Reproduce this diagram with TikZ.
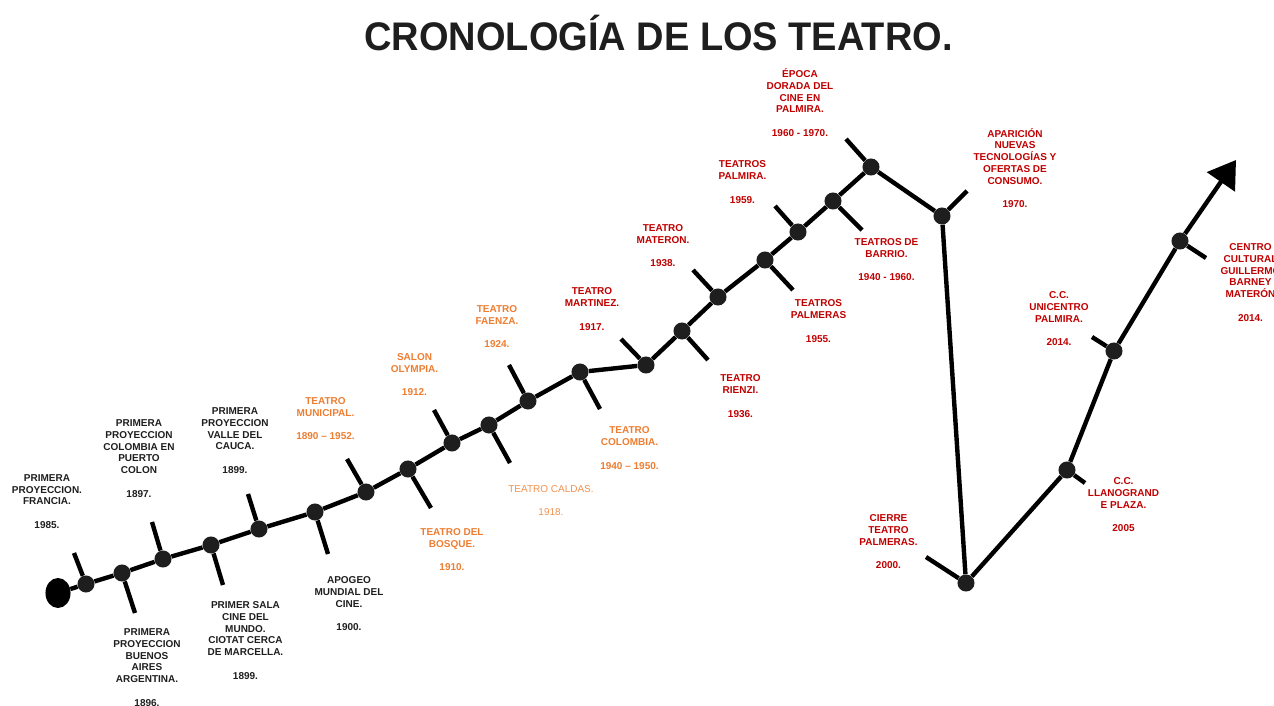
\documentclass[tikz,border=0pt]{standalone}
\usepackage{fontspec}
\setmainfont{Liberation Sans}
\usetikzlibrary{arrows.meta, shapes.geometric}

\definecolor{ink}{HTML}{1E1E1E}
\definecolor{hitred}{HTML}{C00000}
\definecolor{hitorange}{HTML}{ED7D31}

\begin{document}
\begin{tikzpicture}[x=0.75pt, y=-0.75pt,
    dot/.style={circle, fill=ink, inner sep=0pt, minimum size=12.8pt},
    line/.style={draw=black, line width=3.3pt},
    lbl/.style={align=center, inner sep=0pt, font=\fontsize{7.5}{8.8}\selectfont\bfseries, text=ink},
    redlbl/.style={lbl, text=hitred},
    orangelbl/.style={lbl, text=hitorange}]
                            \useasboundingbox (0, 0) rectangle (1274, 706);

                            \node (title)[anchor=base, inner sep=0pt, text=ink] at (658.5, 50.5) {\fontsize{28.5}{30}\selectfont\bfseries\scalebox{1}[1.05]{CRONOLOGÍA DE LOS TEATRO.}};

                            % puntos de la linea
                            \node (start)[ellipse, fill=black, inner sep=0pt, minimum width=18.8pt, minimum height=22.5pt] at (58, 593) {};
                            \node (n1)[dot] at (86, 584) {};
                            \node (n2)[dot] at (122, 573) {};
                            \node (n3)[dot] at (163, 559) {};
                            \node (n4)[dot] at (211, 545) {};
                            \node (n5)[dot] at (259, 529) {};
                            \node (n6)[dot] at (315, 512) {};
                            \node (n7)[dot] at (366, 492) {};
                            \node (n8)[dot] at (408, 469) {};
                            \node (n9)[dot] at (452, 443) {};
                            \node (n10)[dot] at (489, 425) {};
                            \node (n11)[dot] at (528, 401) {};
                            \node (n12)[dot] at (580, 372) {};
                            \node (n13)[dot] at (646, 365) {};
                            \node (n14)[dot] at (682, 331) {};
                            \node (n15)[dot] at (718, 297) {};
                            \node (n16)[dot] at (765, 260) {};
                            \node (n17)[dot] at (798, 232) {};
                            \node (n18)[dot] at (833, 201) {};
                            \node (n19)[dot] at (871, 167) {};
                            \node (n20)[dot] at (942, 216) {};
                            \node (n21)[dot] at (966, 583) {};
                            \node (n22)[dot] at (1067, 470) {};
                            \node (n23)[dot] at (1114, 351) {};
                            \node (n24)[dot] at (1180, 241) {};
                            \coordinate (tip) at (1236, 160);

                            % extremos de las marcas
                            \coordinate (t1) at (74, 553);
                            \coordinate (t2) at (135, 613);
                            \coordinate (t3) at (152, 522);
                            \coordinate (t4) at (223, 585);
                            \coordinate (t5) at (248, 494);
                            \coordinate (t6) at (328, 554);
                            \coordinate (t7) at (347, 459);
                            \coordinate (t8) at (431, 508);
                            \coordinate (t9) at (434, 410);
                            \coordinate (t10) at (510, 463);
                            \coordinate (t11) at (509, 365);
                            \coordinate (t12) at (600, 409);
                            \coordinate (t13) at (621, 339);
                            \coordinate (t14) at (708, 360);
                            \coordinate (t15) at (693, 270);
                            \coordinate (t16) at (793, 290);
                            \coordinate (t17) at (775, 206);
                            \coordinate (t18) at (862, 230);
                            \coordinate (t19) at (846, 139);
                            \coordinate (t20) at (967, 191);
                            \coordinate (t21) at (926, 557);
                            \coordinate (t22) at (1085, 483);
                            \coordinate (t23) at (1092, 337);
                            \coordinate (t24) at (1206, 258);

                            % linea del tiempo
                            \draw [line] (start) edge (n1);
                            \draw [line] (n1) edge (n2);
                            \draw [line] (n2) edge (n3);
                            \draw [line] (n3) edge (n4);
                            \draw [line] (n4) edge (n5);
                            \draw [line] (n5) edge (n6);
                            \draw [line] (n6) edge (n7);
                            \draw [line] (n7) edge (n8);
                            \draw [line] (n8) edge (n9);
                            \draw [line] (n9) edge (n10);
                            \draw [line] (n10) edge (n11);
                            \draw [line] (n11) edge (n12);
                            \draw [line] (n12) edge (n13);
                            \draw [line] (n13) edge (n14);
                            \draw [line] (n14) edge (n15);
                            \draw [line] (n15) edge (n16);
                            \draw [line] (n16) edge (n17);
                            \draw [line] (n17) edge (n18);
                            \draw [line] (n18) edge (n19);
                            \draw [line] (n19) edge (n20);
                            \draw [line] (n20) edge (n21);
                            \draw [line] (n21) edge (n22);
                            \draw [line] (n22) edge (n23);
                            \draw [line] (n23) edge (n24);
                            \draw [line, -{Triangle[length=20pt, width=25pt]}] (n24) -- (tip);

                            % marcas
                            \draw [line] (n1) edge (t1);
                            \draw [line] (n2) edge (t2);
                            \draw [line] (n3) edge (t3);
                            \draw [line] (n4) edge (t4);
                            \draw [line] (n5) edge (t5);
                            \draw [line] (n6) edge (t6);
                            \draw [line] (n7) edge (t7);
                            \draw [line] (n8) edge (t8);
                            \draw [line] (n9) edge (t9);
                            \draw [line] (n10) edge (t10);
                            \draw [line] (n11) edge (t11);
                            \draw [line] (n12) edge (t12);
                            \draw [line] (n13) edge (t13);
                            \draw [line] (n14) edge (t14);
                            \draw [line] (n15) edge (t15);
                            \draw [line] (n16) edge (t16);
                            \draw [line] (n17) edge (t17);
                            \draw [line] (n18) edge (t18);
                            \draw [line] (n19) edge (t19);
                            \draw [line] (n20) edge (t20);
                            \draw [line] (n21) edge (t21);
                            \draw [line] (n22) edge (t22);
                            \draw [line] (n23) edge (t23);
                            \draw [line] (n24) edge (t24);

                            % textos
                            \node (francia)[lbl] at (47, 501.5) {PRIMERA\\PROYECCION.\\FRANCIA.\\[8.8pt]1985.};
                            \node (colon)[lbl] at (139, 458.5) {PRIMERA\\PROYECCION\\COLOMBIA EN\\PUERTO\\COLON\\[8.8pt]1897.};
                            \node (valle)[lbl] at (235, 440.5) {PRIMERA\\PROYECCION\\VALLE DEL\\CAUCA.\\[8.8pt]1899.};
                            \node (buenos)[lbl] at (147, 667.5) {PRIMERA\\PROYECCION\\BUENOS\\AIRES\\ARGENTINA.\\[8.8pt]1896.};
                            \node (ciotat)[lbl] at (245.5, 640.5) {PRIMER SALA\\CINE DEL\\MUNDO.\\CIOTAT CERCA\\DE MARCELLA.\\[8.8pt]1899.};
                            \node (apogeo)[lbl] at (349, 604) {APOGEO\\MUNDIAL DEL\\CINE.\\[8.8pt]1900.};
                            \node (municipal)[orangelbl] at (325.5, 418.5) {TEATRO\\MUNICIPAL.\\[8.8pt]1890 – 1952.};
                            \node (olympia)[orangelbl] at (414.5, 374.5) {SALON\\OLYMPIA.\\[8.8pt]1912.};
                            \node (bosque)[orangelbl] at (452, 549.5) {TEATRO DEL\\BOSQUE.\\[8.8pt]1910.};
                            \node (faenza)[orangelbl] at (497, 326.5) {TEATRO\\FAENZA.\\[8.8pt]1924.};
                            \node (caldas)[orangelbl, font=\fontsize{7.5}{8.8}\selectfont, text=hitorange!85] at (551, 500.5) {TEATRO CALDAS.\\[8.8pt]1918.};
                            \node (martinez)[redlbl] at (592, 309) {TEATRO\\MARTINEZ.\\[8.8pt]1917.};
                            \node (colombia)[orangelbl] at (629.5, 448) {TEATRO\\COLOMBIA.\\[8.8pt]1940 – 1950.};
                            \node (materon)[redlbl] at (663, 245.5) {TEATRO\\MATERON.\\[8.8pt]1938.};
                            \node (rienzi)[redlbl] at (740.5, 396) {TEATRO\\RIENZI.\\[8.8pt]1936.};
                            \node (palmira)[redlbl] at (742.5, 182) {TEATROS\\PALMIRA.\\[8.8pt]1959.};
                            \node (palmeras)[redlbl] at (818.5, 321) {TEATROS\\PALMERAS\\[8.8pt]1955.};
                            \node (epoca)[redlbl] at (800, 102.5) {ÉPOCA\\DORADA DEL\\CINE EN\\PALMIRA.\\[8.8pt]1960 - 1970.};
                            \node (barrio)[redlbl] at (886.5, 259.5) {TEATROS DE\\BARRIO.\\[8.8pt]1940 - 1960.};
                            \node (aparicion)[redlbl] at (1015, 168) {APARICIÓN\\NUEVAS\\TECNOLOGÍAS Y\\OFERTAS DE\\CONSUMO.\\[8.8pt]1970.};
                            \node (cierre)[redlbl] at (888.5, 542) {CIERRE\\TEATRO\\PALMERAS.\\[8.8pt]2000.};
                            \node (llanogrande)[redlbl] at (1123.5, 505) {C.C.\\LLANOGRAND\\E PLAZA.\\[8.8pt]2005};
                            \node (unicentro)[redlbl] at (1059, 319) {C.C.\\UNICENTRO\\PALMIRA.\\[8.8pt]2014.};
                            \node (centro)[redlbl] at (1250.5, 282.5) {CENTRO\\CULTURAL\\GUILLERMO\\BARNEY\\MATERÓN\\[8.8pt]2014.};
                        \end{tikzpicture}
\end{document}
